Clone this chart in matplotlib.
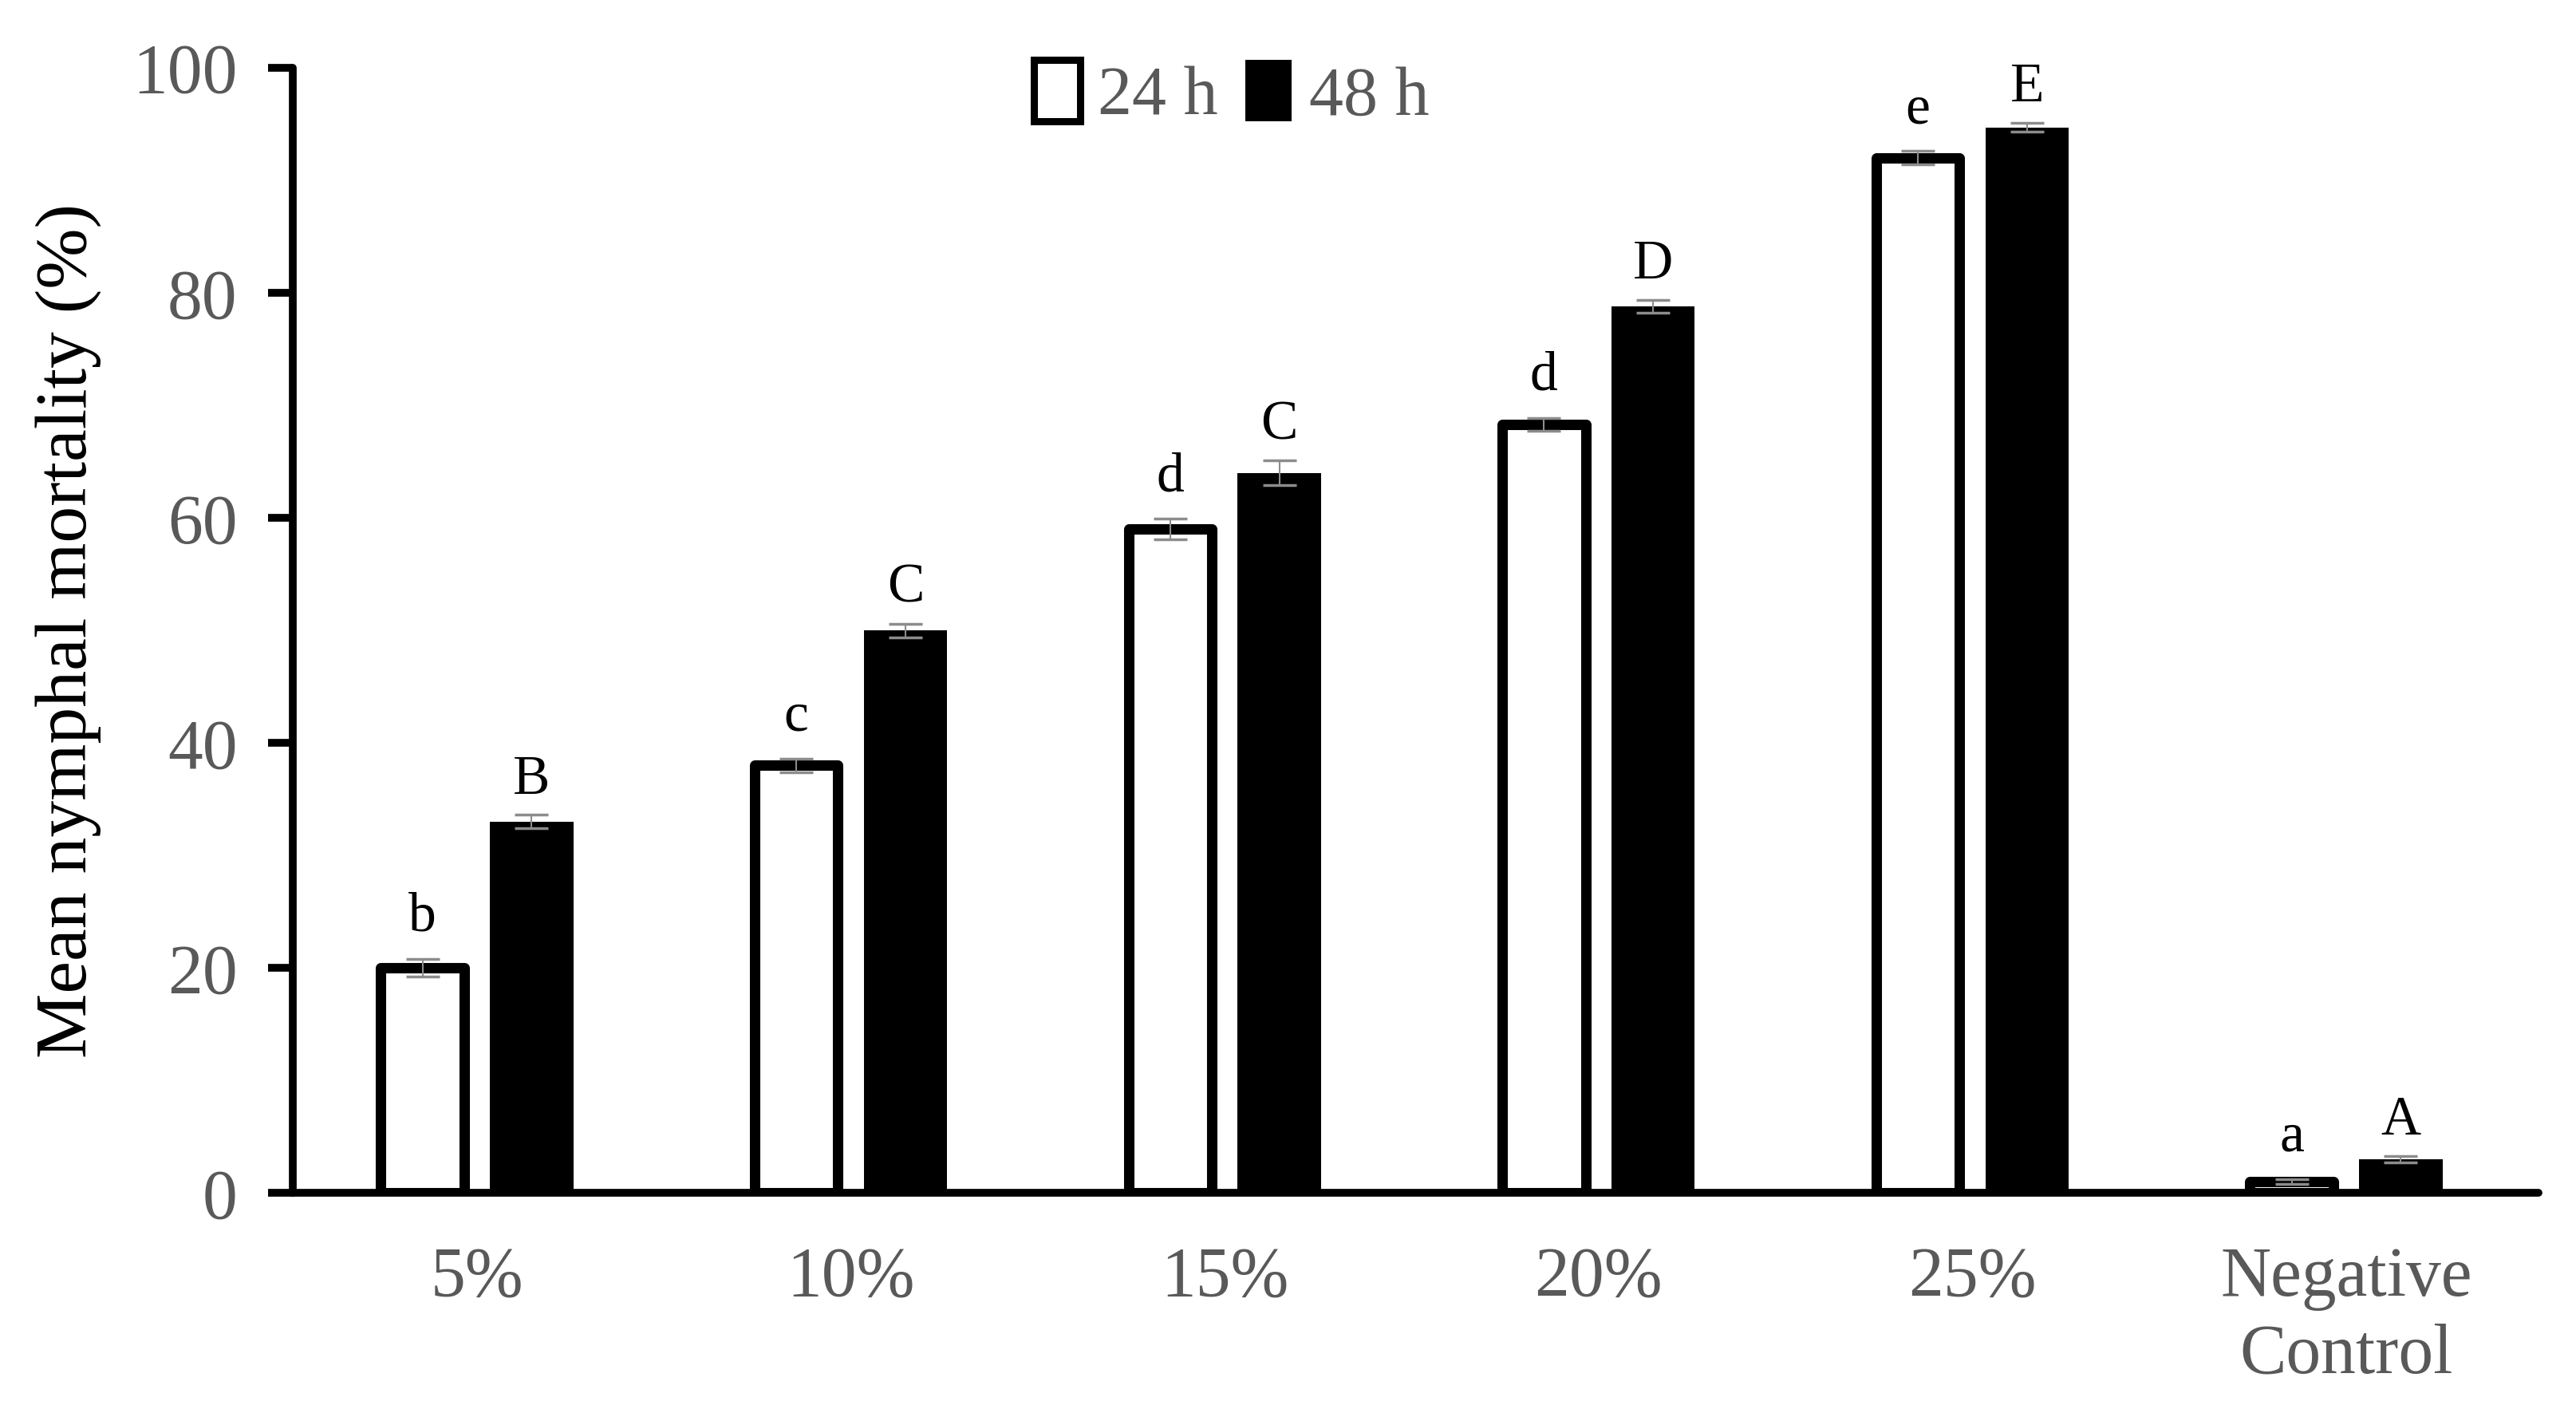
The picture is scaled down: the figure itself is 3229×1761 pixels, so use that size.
import matplotlib
matplotlib.use("Agg")
import matplotlib.pyplot as plt
import numpy as np
from matplotlib.patches import Patch

plt.rcParams['font.family'] = ['Liberation Serif', 'DejaVu Serif']

categories = ["5%", "10%", "15%", "20%", "25%", "Negative\nControl"]
mort_24h = [20, 38, 59, 68.3, 92, 1]
mort_48h = [33, 50, 64, 78.8, 94.7, 3]
err_24h = [0.8, 0.6, 0.9, 0.6, 0.6, 0.2]
err_48h = [0.6, 0.6, 1.1, 0.6, 0.4, 0.3]
letters_24h = ["b", "c", "d", "d", "e", "a"]
letters_48h = ["B", "C", "C", "D", "E", "A"]
series_labels = ["24 h", "48 h"]

fig = plt.figure(figsize=(32.30, 17.61), dpi=100)
ax = fig.add_axes([0.1136, 0.151, 0.8715, 0.8007])

x = np.arange(len(categories))
w = 0.223
off = 0.146
lw_bar = 9.4

ax.bar(x - off, mort_24h, width=w, facecolor='white', edgecolor='black',
       linewidth=lw_bar, joinstyle='round', zorder=2)
ax.bar(x + off, mort_48h, width=w, facecolor='black', edgecolor='black',
       linewidth=0, zorder=2)
ax.errorbar(x - off, mort_24h, yerr=err_24h, fmt='none', ecolor='#8c8c8c',
            elinewidth=1.5, capsize=15, capthick=2.5, zorder=3)
ax.errorbar(x + off, mort_48h, yerr=err_48h, fmt='none', ecolor='#8c8c8c',
            elinewidth=1.5, capsize=15, capthick=2.5, zorder=3)

for xi, v, e, l in zip(x - off, mort_24h, err_24h, letters_24h):
    ax.text(xi, v + e + 2.5, l, ha='center', va='baseline', fontsize=50, color='black')
for xi, v, e, l in zip(x + off, mort_48h, err_48h, letters_48h):
    ax.text(xi, v + e + 1.9, l, ha='center', va='baseline', fontsize=50, color='black')

ax.set_xlim(-0.493, 5.514)
ax.set_ylim(0, 100)
ax.set_yticks([0, 20, 40, 60, 80, 100])
ax.set_xticks(x)
ax.set_xticklabels(categories, linespacing=1.25)

for s in ['top', 'right']:
    ax.spines[s].set_visible(False)
for s in ['left', 'bottom']:
    ax.spines[s].set_linewidth(7)
    ax.spines[s].set_capstyle('round')

ax.tick_params(axis='y', direction='out', length=22, width=7, pad=28,
               labelsize=63, labelcolor='#595959')
ax.tick_params(axis='x', length=0, pad=48, labelsize=63, labelcolor='#595959')

ax.set_ylabel("Mean nymphal mortality (%)", fontsize=66, color='black', labelpad=28)

handles = [Patch(facecolor='white', edgecolor='black', linewidth=6.5),
           Patch(facecolor='black', edgecolor='black', linewidth=0)]
leg = ax.legend(handles, series_labels, loc='upper center', bbox_to_anchor=(0.418, 1.062),
                ncol=2, frameon=False, fontsize=62, handlelength=0.68, handleheight=1.0,
                handletextpad=0.25, columnspacing=0.4, labelcolor='#595959')

fig.savefig("out.png", dpi=100)
